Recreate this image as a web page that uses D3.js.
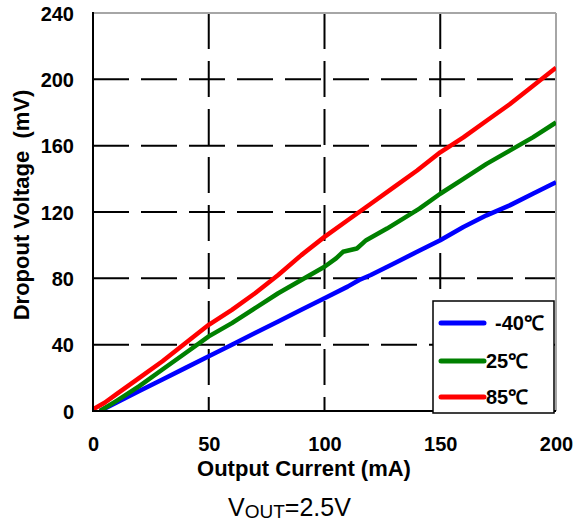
<!DOCTYPE html>
<html><head><meta charset="utf-8">
<script src="https://cdn.jsdelivr.net/npm/d3@7"></script>
<style>html,body{margin:0;padding:0;background:#fff;}svg{display:block;}</style>
</head><body>
<svg id="chart" width="582" height="525"></svg>
<script>
// Data (mA -> mV)
const redX   = [0,5,10,20,30,40,50,60,70,80,90,100,110,115,120,130,140,150,160,170,180,190,200];
const redY   = [1,5,10,20,30,41,52,61,71,82,94,105,115,120,125,135,145,156,165,175,185,196,207];
const greenX = [3,10,20,30,40,50,60,70,80,90,100,105,108,114,118,127,141,150,160,170,180,190,200];
const greenY = [0,6,15,25,35,45,53,62,71,79,87,92,96,98,103,110,122,131,140,149,157,165,174];
const blueX  = [3,10,20,30,40,50,60,70,80,90,100,110,115,120,130,140,150,160,170,180,190,200];
const blueY  = [0,5,12,19,26,33,40,47,54,61,68,75,79,82,89,96,103,111,118,124,131,138];
const xTicks = [0,50,100,150,200];
const yTicks = [0,40,80,120,160,200,240];
const seriesNames = ["-40\u2103","25\u2103","85\u2103"];
const seriesColors = ["#0000ff","#008000","#ff0000"];

const svg = d3.select("#chart");
const L = 93, R = 556, T = 13, B = 411;
const x = d3.scaleLinear().domain([0,200]).range([L,R]);
const y = d3.scaleLinear().domain([0,240]).range([B,T]);

// clip
svg.append("defs").append("clipPath").attr("id","clip")
  .append("rect").attr("x",L).attr("y",T).attr("width",R-L).attr("height",B-T);

// gridlines
const grid = svg.append("g");
grid.selectAll("line.h").data(yTicks.filter(d=>d>0 && d<240)).enter().append("line")
  .attr("x1",L).attr("x2",R).attr("y1",d=>y(d)).attr("y2",d=>y(d))
  .attr("stroke","#000").attr("stroke-width",2).attr("stroke-dasharray","36,12");
grid.selectAll("line.v").data(xTicks.filter(d=>d>0 && d<200)).enter().append("line")
  .attr("x1",d=>x(d)).attr("x2",d=>x(d)).attr("y1",T).attr("y2",B)
  .attr("stroke","#000").attr("stroke-width",2).attr("stroke-dasharray","36,12");

// border top/right gray
svg.append("line").attr("x1",L).attr("x2",R).attr("y1",T).attr("y2",T).attr("stroke","#a6a6a6").attr("stroke-width",2);
svg.append("line").attr("x1",R).attr("x2",R).attr("y1",T).attr("y2",B).attr("stroke","#a6a6a6").attr("stroke-width",2);

// series
const series = [
  {xs: blueX, ys: blueY, c: seriesColors[0]},
  {xs: greenX, ys: greenY, c: seriesColors[1]},
  {xs: redX, ys: redY, c: seriesColors[2]}
];
const line = d3.line().x(d=>x(d[0])).y(d=>y(d[1]));
const lg = svg.append("g").attr("clip-path","url(#clip)");
series.forEach(s=>{
  lg.append("path").datum(s.xs.map((v,i)=>[v,s.ys[i]]))
    .attr("d",line).attr("fill","none").attr("stroke",s.c)
    .attr("stroke-width",4.5).attr("stroke-linejoin","round");
});

// axes
const xAxis = svg.append("g").attr("transform",`translate(0,${B})`)
  .call(d3.axisBottom(x).tickValues(xTicks).tickSize(0).tickPadding(0));
xAxis.select(".domain").remove();
xAxis.selectAll("text").attr("y",40).attr("dy",0)
  .attr("font-family","Liberation Sans, Arial, sans-serif").attr("font-weight","bold")
  .attr("font-size","20px").attr("fill","#000");

const yAxis = svg.append("g").attr("transform",`translate(${L},0)`)
  .call(d3.axisLeft(y).tickValues(yTicks).tickSize(0).tickPadding(0));
yAxis.select(".domain").remove();
yAxis.selectAll("text").attr("x",-19).attr("dy","0.36em")
  .attr("font-family","Liberation Sans, Arial, sans-serif").attr("font-weight","bold")
  .attr("font-size","20px").attr("fill","#000");

svg.append("line").attr("x1",L).attr("x2",L).attr("y1",T-1).attr("y2",B+1).attr("stroke","#000").attr("stroke-width",2);
svg.append("line").attr("x1",L-1).attr("x2",R).attr("y1",B).attr("y2",B).attr("stroke","#000").attr("stroke-width",2);

// titles
svg.append("text").attr("x",304).attr("y",476).attr("text-anchor","middle")
  .attr("font-family","Liberation Sans, Arial, sans-serif").attr("font-weight","bold")
  .attr("font-size","22px").text("Output Current (mA)");
svg.append("text").attr("transform","translate(29,205) rotate(-90)").attr("text-anchor","middle")
  .attr("font-family","Liberation Sans, Arial, sans-serif").attr("font-weight","bold")
  .attr("font-size","22px").attr("xml:space","preserve").text("Dropout Voltage  (mV)");

const sub = svg.append("text").attr("x",228).attr("y",516)
  .attr("font-family","Liberation Sans, Arial, sans-serif").attr("font-size","25px");
sub.append("tspan").text("V");
sub.append("tspan").attr("font-size","19px").attr("dy",2).text("OUT");
sub.append("tspan").attr("dy",-2).text("=2.5V");

// legend
const leg = svg.append("g");
leg.append("rect").attr("x",433).attr("y",301).attr("width",121).attr("height",112)
  .attr("fill","#fff").attr("stroke","#000").attr("stroke-width",1.5);
const ly = [323,361,397];
const tx = [495,486,486];
seriesNames.forEach((n,i)=>{
  leg.append("line").attr("x1",441).attr("x2",484).attr("y1",ly[i]).attr("y2",ly[i])
    .attr("stroke",seriesColors[i]).attr("stroke-width",5).attr("stroke-linecap","round");
  leg.append("text").attr("x",tx[i]).attr("y",ly[i]).attr("dy","0.36em")
    .attr("font-family","Liberation Sans, Arial, sans-serif").attr("font-weight","bold")
    .attr("font-size","20px").text(n);
});
</script>
</body></html>
